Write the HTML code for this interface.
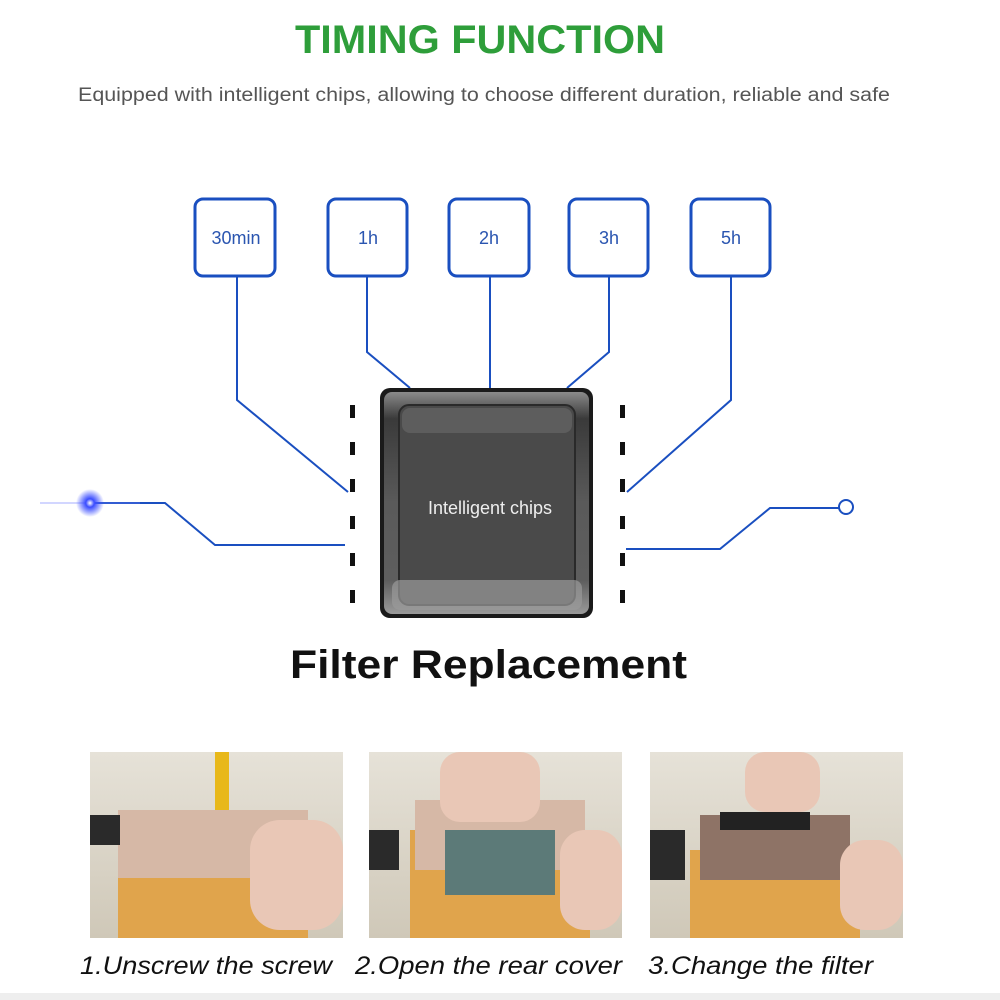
<!DOCTYPE html>
<html><head><meta charset="utf-8"><style>
html,body{margin:0;padding:0;background:#fff;width:1000px;height:1000px;overflow:hidden}
svg{display:block}
</style></head><body>
<svg width="1000" height="1000" viewBox="0 0 1000 1000" xmlns="http://www.w3.org/2000/svg">
<defs>
<linearGradient id="chip" x1="0" y1="0" x2="0" y2="1">
<stop offset="0" stop-color="#8a8a8a"/><stop offset="0.12" stop-color="#3a3a3a"/><stop offset="0.5" stop-color="#5a5a5a"/><stop offset="0.85" stop-color="#5e5e5e"/><stop offset="1" stop-color="#9a9a9a"/>
</linearGradient>
<radialGradient id="glow"><stop offset="0" stop-color="#fff"/><stop offset="0.3" stop-color="#3a4cff"/><stop offset="1" stop-color="#3a4cff" stop-opacity="0"/></radialGradient>
<linearGradient id="bg1" x1="0" y1="0" x2="0" y2="1"><stop offset="0" stop-color="#e6e2d8"/><stop offset="1" stop-color="#cfc8b8"/></linearGradient>
</defs>
<text x="295" y="53" textLength="370" lengthAdjust="spacingAndGlyphs" font-family="Liberation Sans, sans-serif" font-weight="bold" font-size="40" fill="#2e9e3a">TIMING FUNCTION</text>
<text x="78" y="101" textLength="812" lengthAdjust="spacingAndGlyphs" font-family="Liberation Sans, sans-serif" font-size="19" fill="#555">Equipped with intelligent chips, allowing to choose different duration, reliable and safe</text>

<g fill="#fff" stroke="#1a4fc0" stroke-width="3">
<rect x="195" y="199" width="80" height="77" rx="8"/>
<rect x="328" y="199" width="79" height="77" rx="8"/>
<rect x="449" y="199" width="80" height="77" rx="8"/>
<rect x="569" y="199" width="79" height="77" rx="8"/>
<rect x="691" y="199" width="79" height="77" rx="8"/>
</g>
<g font-family="Liberation Sans, sans-serif" font-size="18" fill="#2a55b0" text-anchor="middle">
<text x="236" y="244">30min</text><text x="368" y="244">1h</text><text x="489" y="244">2h</text><text x="609" y="244">3h</text><text x="731" y="244">5h</text>
</g>
<g fill="none" stroke="#1a4fc0" stroke-width="2">
<polyline points="237,277 237,400 348,492"/>
<polyline points="367,277 367,352 410,388"/>
<polyline points="490,277 490,388"/>
<polyline points="609,277 609,352 567,388"/>
<polyline points="731,277 731,400 627,492"/>
<polyline points="95,503 165,503 215,545 345,545"/>
<polyline points="626,549 720,549 770,508 839,508"/>
</g>
<circle cx="846" cy="507" r="7" fill="#fff" stroke="#1a4fc0" stroke-width="2"/>
<line x1="40" y1="503" x2="140" y2="503" stroke="#6a7aff" stroke-width="1" opacity="0.6"/>
<circle cx="90" cy="503" r="14" fill="url(#glow)"/>

<g fill="#111">
<rect x="350" y="405" width="5" height="13"/><rect x="350" y="442" width="5" height="13"/><rect x="350" y="479" width="5" height="13"/><rect x="350" y="516" width="5" height="13"/><rect x="350" y="553" width="5" height="13"/><rect x="350" y="590" width="5" height="13"/>
<rect x="620" y="405" width="5" height="13"/><rect x="620" y="442" width="5" height="13"/><rect x="620" y="479" width="5" height="13"/><rect x="620" y="516" width="5" height="13"/><rect x="620" y="553" width="5" height="13"/><rect x="620" y="590" width="5" height="13"/>
</g>
<rect x="380" y="388" width="213" height="230" rx="10" fill="#1a1a1a"/>
<rect x="384" y="392" width="205" height="222" rx="8" fill="url(#chip)"/>
<rect x="399" y="405" width="176" height="200" rx="10" fill="#4a4a4a" stroke="#2a2a2a" stroke-width="2"/>
<rect x="402" y="408" width="170" height="25" rx="8" fill="#6a6a6a" opacity="0.6"/>
<rect x="392" y="580" width="190" height="30" rx="8" fill="#9a9a9a" opacity="0.7"/>
<text x="490" y="514" text-anchor="middle" font-family="Liberation Sans, sans-serif" font-size="18" fill="#eee">Intelligent chips</text>

<text x="290" y="678" textLength="397" lengthAdjust="spacingAndGlyphs" font-family="Liberation Sans, sans-serif" font-weight="bold" font-size="40" fill="#111">Filter Replacement</text>

<g>
<rect x="90" y="752" width="253" height="186" fill="url(#bg1)"/>
<rect x="118" y="810" width="190" height="90" fill="#d6b8a6"/>
<rect x="118" y="878" width="190" height="60" fill="#e0a44c"/>
<rect x="215" y="752" width="14" height="58" fill="#e8b81a"/>
<rect x="250" y="820" width="93" height="110" fill="#e9c7b6" rx="30"/>
<rect x="90" y="815" width="30" height="30" fill="#2a2a2a"/>

<rect x="369" y="752" width="253" height="186" fill="url(#bg1)"/>
<rect x="410" y="830" width="180" height="108" fill="#e0a44c"/>
<rect x="415" y="800" width="170" height="70" fill="#d6b8a6"/>
<rect x="445" y="830" width="110" height="65" fill="#5c7a78"/>
<rect x="440" y="752" width="100" height="70" fill="#e9c7b6" rx="20"/>
<rect x="560" y="830" width="62" height="100" fill="#e9c7b6" rx="25"/>
<rect x="369" y="830" width="30" height="40" fill="#2a2a2a"/>

<rect x="650" y="752" width="253" height="186" fill="url(#bg1)"/>
<rect x="690" y="850" width="170" height="88" fill="#e0a44c"/>
<rect x="700" y="815" width="150" height="65" fill="#8e7366"/>
<rect x="720" y="812" width="90" height="18" fill="#222"/>
<rect x="745" y="752" width="75" height="60" fill="#e9c7b6" rx="20"/>
<rect x="840" y="840" width="63" height="90" fill="#e9c7b6" rx="25"/>
<rect x="650" y="830" width="35" height="50" fill="#2a2a2a"/>
</g>
<g font-family="Liberation Sans, sans-serif" font-style="italic" font-size="25" fill="#111">
<text x="80" y="974" textLength="252" lengthAdjust="spacingAndGlyphs">1.Unscrew the screw</text>
<text x="355" y="974" textLength="267" lengthAdjust="spacingAndGlyphs">2.Open the rear cover</text>
<text x="648" y="974" textLength="225" lengthAdjust="spacingAndGlyphs">3.Change the filter</text>
</g>
<rect x="0" y="993" width="1000" height="7" fill="#eee"/>
</svg>
</body></html>
